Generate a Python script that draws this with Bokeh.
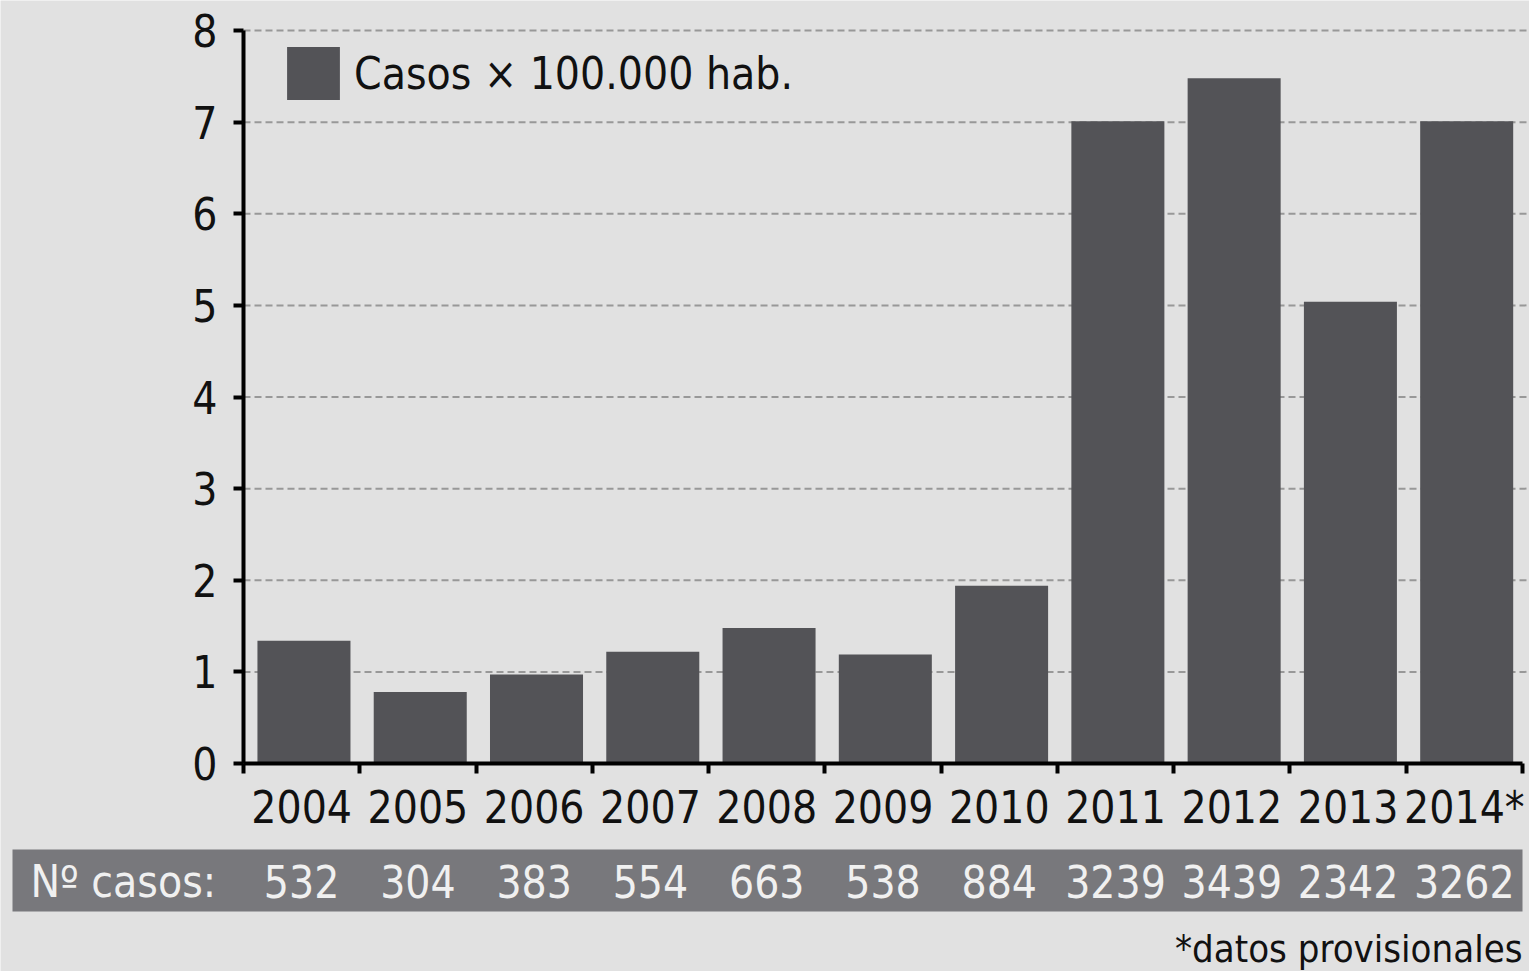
from bokeh.plotting import figure
from bokeh.models import Range1d, FixedTicker, ColumnDataSource, Legend, LegendItem
from bokeh.core.properties import value
from bokeh.embed import file_html
from bokeh.resources import INLINE

# ---- data ----
years = ["2004", "2005", "2006", "2007", "2008", "2009", "2010", "2011", "2012", "2013", "2014*"]
rate = [1.34, 0.78, 0.97, 1.22, 1.48, 1.19, 1.94, 7.01, 7.48, 5.04, 7.01]
cases = [532, 304, 383, 554, 663, 538, 884, 3239, 3439, 2342, 3262]
y_ticks = [0, 1, 2, 3, 4, 5, 6, 7, 8]
legend_label = "Casos × 100.000 hab."
band_label = "Nº casos:"
footnote = "*datos provisionales"

FONT = "DejaVu Sans Condensed, Liberation Sans Narrow, sans-serif"
BG = "#e1e1e1"
BAR = "#535357"
BAND = "#78787c"

# ---- layout constants (pixels) ----
W, H = 1529, 971
AX_L, AX_R = 243, 1522      # x of data 0 and data n
AX_TOP, AX_BOT = 30, 763    # y of value 8 and value 0

n = len(years)
centers = [i + 0.5 for i in range(n)]
bw = (AX_R - AX_L) / n
yu = (AX_BOT - AX_TOP) / 8.0

def px2x(px):
    return (px - AX_L) / bw

def py2y(py):
    return (AX_BOT - py) / yu

p = figure(width=W, height=H, output_backend="svg", toolbar_location=None,
           x_range=Range1d(px2x(0), px2x(W)), y_range=Range1d(py2y(H), py2y(0)),
           min_border=0, min_border_left=0, min_border_right=0,
           min_border_top=0, min_border_bottom=0)
p.background_fill_color = BG
p.border_fill_color = BG
p.outline_line_color = None
p.xgrid.visible = False
p.ygrid.visible = False

# dashed grid lines (behind bars)
gt = y_ticks[1:]
p.segment(x0=[0] * len(gt), x1=[px2x(W)] * len(gt), y0=gt, y1=gt,
          line_color="#989898", line_width=2, line_dash="7 4")

src = ColumnDataSource(dict(x=[c + 0.02 for c in centers], top=rate, year=years))
r = p.vbar(x="x", top="top", bottom=0, width=0.8, source=src,
           fill_color=BAR, line_color=None)

# y axis
ya = p.yaxis[0]
ya.fixed_location = 0
ya.bounds = (0, 8)
ya.ticker = FixedTicker(ticks=y_ticks)
ya.axis_line_width = 4
ya.axis_line_color = "black"
ya.major_tick_line_width = 4
ya.major_tick_in = 0
ya.major_tick_out = 10
ya.minor_tick_line_color = None
ya.major_label_text_font = FONT
ya.major_label_text_font_size = "44px"
ya.major_label_text_color = "#111111"
ya.major_label_standoff = 16

# x axis: labels at centers, ticks at boundaries
xa = p.xaxis[0]
xa.fixed_location = 0
xa.bounds = (0, n)
xa.ticker = FixedTicker(ticks=centers, minor_ticks=list(range(n + 1)))
xa.major_label_overrides = {c: y for c, y in zip(centers, years)}
xa.axis_line_width = 4
xa.axis_line_color = "black"
xa.major_tick_line_color = None
xa.major_tick_out = 0
xa.major_tick_in = 0
xa.minor_tick_line_width = 4
xa.minor_tick_line_color = "black"
xa.minor_tick_out = 10
xa.minor_tick_in = 0
xa.major_label_text_font = FONT
xa.major_label_text_font_size = "44px"
xa.major_label_text_color = "#111111"
xa.major_label_standoff = 8

legend = Legend(items=[LegendItem(label=legend_label, renderers=[r])],
                location=(280, H - 40 - 66), orientation="vertical")
legend.background_fill_alpha = 0
legend.border_line_color = None
legend.padding = 0
legend.margin = 0
legend.glyph_width = 66
legend.glyph_height = 66
legend.label_standoff = 8
legend.label_text_font = FONT
legend.label_text_font_size = "44px"
legend.label_text_color = "#111111"
p.add_layout(legend, "center")

# ---- band with number of cases ----
p.quad(left=[px2x(12)], right=[n], top=[py2y(849)], bottom=[py2y(911)],
       fill_color=BAND, line_color=None)
p.text(x=[px2x(30)], y=[py2y(881)], text=[band_label], text_font=value(FONT),
       text_font_size="44px", text_color="#f0f0f0", text_align="left",
       text_baseline="middle")
p.text(x=centers, y=[py2y(881)] * n, text=[str(c) for c in cases], text_font=value(FONT),
       text_font_size="44px", text_color="#f0f0f0", text_align="center",
       text_baseline="middle")
p.text(x=[n], y=[py2y(948)], text=[footnote], text_font=value(FONT),
       text_font_size="38px", text_color="#111111", text_align="right",
       text_baseline="middle")

open("out.html", "w").write(file_html(p, INLINE))
